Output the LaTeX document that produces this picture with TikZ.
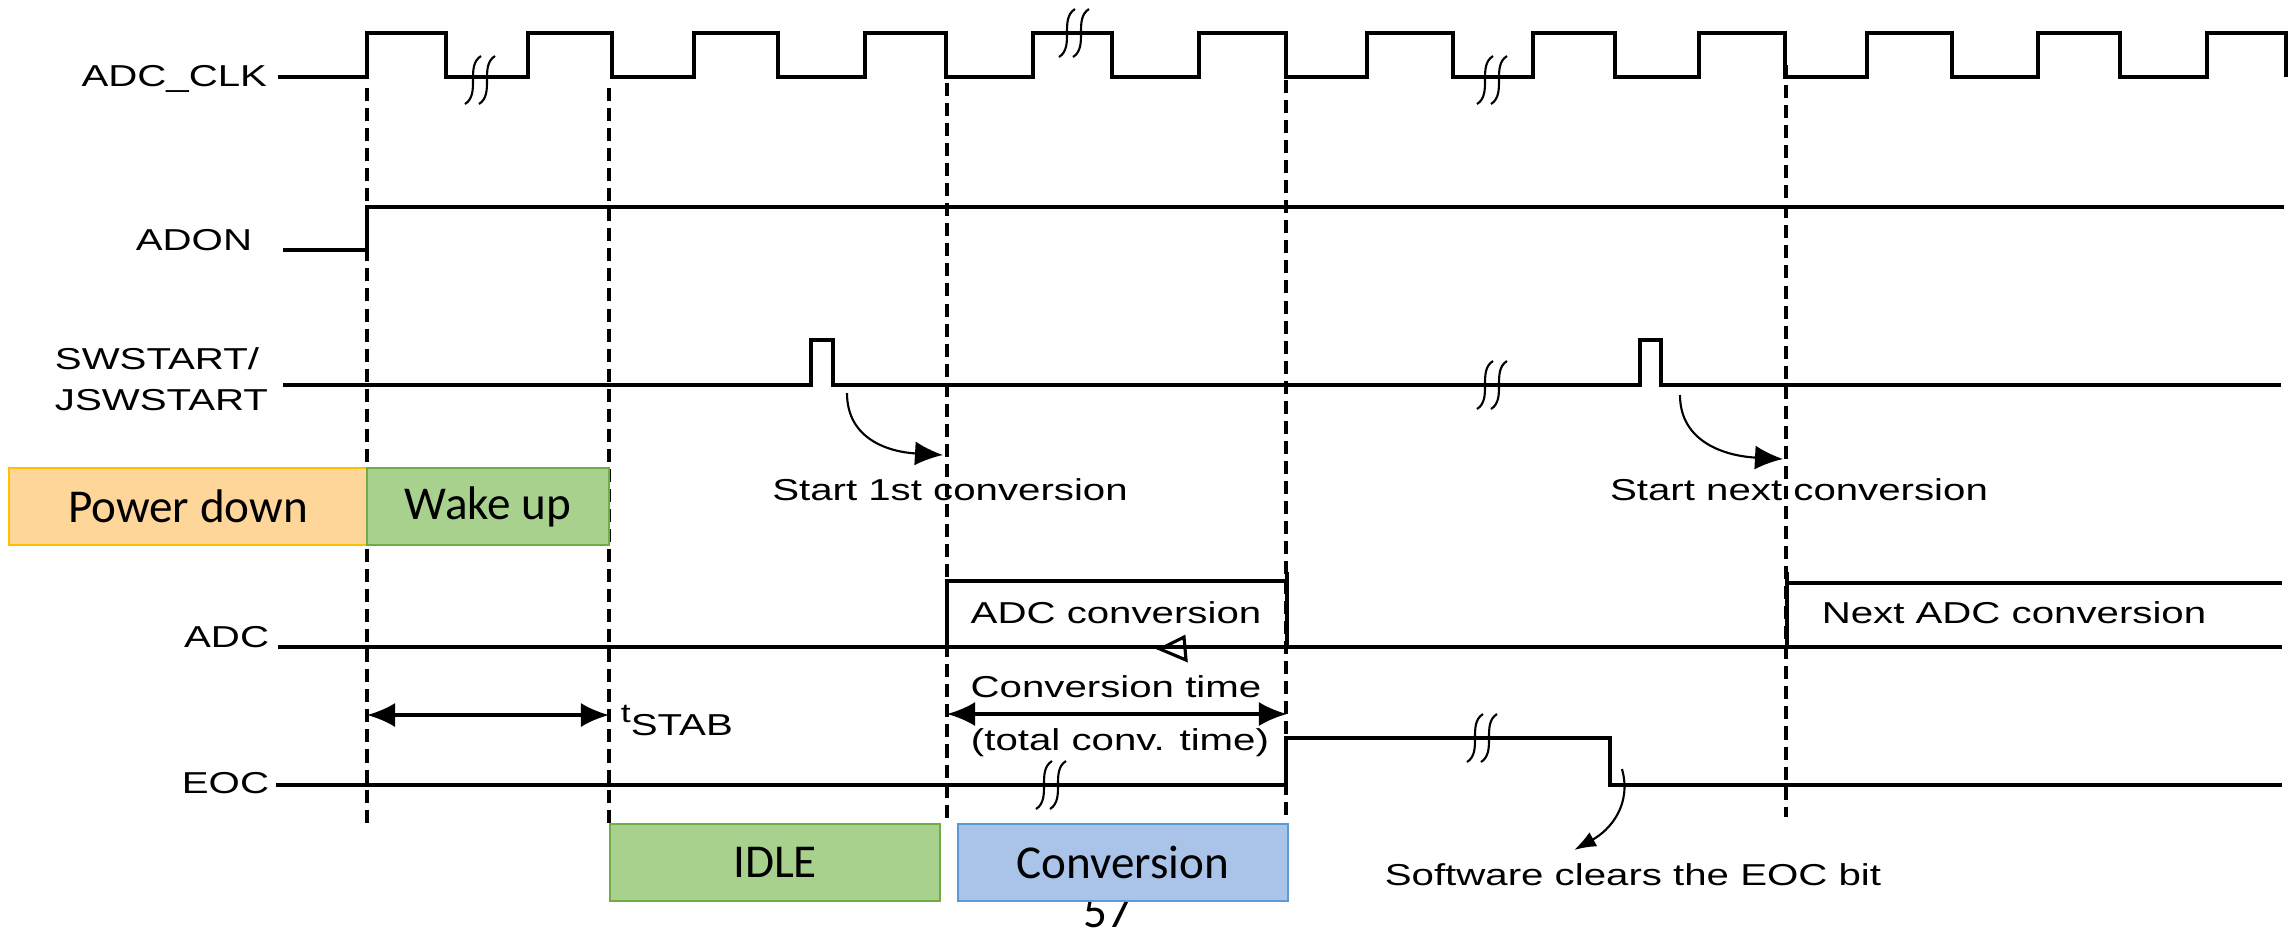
\documentclass[tikz,border=0pt]{standalone}
\usepackage{fontspec}
\setmainfont{Liberation Sans}
\newfontfamily\calibri{Carlito}
\usepackage{xcolor}
\usepackage{tikz}
\usetikzlibrary{calc, arrows.meta, positioning}

\definecolor{camnhat}{HTML}{FFD699}
\definecolor{camdam}{HTML}{FFC000}
\definecolor{lucnhat}{HTML}{A9D18E}
\definecolor{lucdam}{HTML}{70AD47}
\definecolor{lamnhat}{HTML}{A9C4E8}
\definecolor{lamdam}{HTML}{5B9BD5}

\tikzset{
    sig/.style={line width=1pt},
    moc/.style={line width=0.9pt, dash pattern=on 3.7pt off 2pt},
    lbl/.style={font=\fontsize{8.6}{11.4}\selectfont, xscale=1.33, inner sep=0pt},
    chu/.style={font=\calibri\fontsize{13.4}{15}\selectfont, inner sep=0pt},
    hop/.style={chu, draw, line width=0.6pt, minimum height=0.77cm},
    muiten/.style={line width=0.6pt, ->},
}

% ky hieu ngat quang
\newcommand{\ngat}[2]{%
    \begin{scope}[shift={(#1,#2)}]
        \draw[line width=0.6pt] (1,-24) .. controls (-15,-14) and (1,14) .. (-15,24);
        \draw[line width=0.6pt] (15,-24) .. controls (-1,-14) and (15,14) .. (-1,24);
    \end{scope}}

\begin{document}
\begin{tikzpicture}[>={Latex[length=2.8mm,width=2.4mm]}, x=0.01cm, y=-0.01cm]
    \useasboundingbox (0,0) rectangle (2296,932);

    % Đường gióng nét đứt
    \foreach \x/\a/\b in {367/88/823, 609/88/823, 947/83/820, 1286/80/820, 1786/65/817}
        \draw[moc] (\x,\a) -- (\x,\b);

    % Tên các tín hiệu
    \node[lbl, anchor=base east] (clk) at (268,86) {ADC\_CLK};
    \node[lbl, anchor=base east] (adon) at (253,250) {ADON};
    \node[lbl, anchor=base west] (sw1) at (54,369) {SWSTART/};
    \node[lbl, anchor=base west] (sw2) at (54,410) {JSWSTART};
    \node[lbl, anchor=base east] (adc) at (270,647) {ADC};
    \node[lbl, anchor=base east] (eoc) at (270,793) {EOC};

    % Xung ADC_CLK
    \draw[sig] (278,77) foreach \r/\f in {367/446, 528/612, 694/778, 865/946, 1033/1112, 1199/1286,
        1367/1453, 1533/1615, 1699/1785, 1867/1952, 2038/2120, 2207/2286}
        { -- (\r,77) -- (\r,33) -- (\f,33) -- (\f,77) };
    \ngat{480}{80}
    \ngat{1074}{33}
    \ngat{1492}{80}

    % ADON
    \draw[sig] (283,250) -- (367,250) -- (367,207) -- (2284,207);

    % SWSTART
    \draw[sig] (283,385) -- (811,385) -- (811,340) -- (833,340) -- (833,385) -- (1640,385)
        -- (1640,340) -- (1661,340) -- (1661,385) -- (2281,385);
    \ngat{1492}{385}

    \coordinate (p1) at (847,393);
    \coordinate (q1) at (943,455);
    \draw[muiten] (p1) .. controls (847,440) and (890,452) .. (q1);
    \node[lbl, anchor=base] (start1) at (950,500) {Start 1st conversion};

    \coordinate (p2) at (1680,395);
    \coordinate (q2) at (1783,459);
    \draw[muiten] (p2) .. controls (1680,442) and (1725,456) .. (q2);
    \node[lbl, anchor=base] (startn) at (1799,500) {Start next conversion};

    % ADC
    \draw[sig] (278,647) -- (2282,647);
    \draw[sig] (947,647) -- (947,581) -- (1287,581);
    \draw[sig] (1287,572) -- (1287,647);
    \draw[sig] (1787,572) -- (1787,647);
    \draw[sig] (1787,583) -- (2282,583);
    \draw[line width=0.9pt] (1160,649) -- (1184,637) -- (1186,660) -- cycle;
    \node[lbl, anchor=base] (adcconv) at (1116,623) {ADC conversion};
    \node[lbl, anchor=base] (nextconv) at (2014,623) {Next ADC conversion};

    % Khoảng thời gian
    \coordinate (ta) at (367,715);
    \coordinate (tb) at (609,715);
    \draw[<->, line width=0.9pt] (ta) -- (tb);
    \node[lbl, anchor=base west] (tstab) at (620,722)
        {{\fontsize{7.6}{8}\selectfont t}\raisebox{-0.13cm}{STAB}};

    \coordinate (ca) at (947,714);
    \coordinate (cb) at (1287,714);
    \draw[<->, line width=0.9pt] (ca) -- (cb);
    \node[lbl, anchor=base] (convtime) at (1116,697) {Conversion time};
    \node[lbl, anchor=base] (totaltime) at (1120,750) {(total conv. time)};

    % EOC
    \draw[sig] (276,785) -- (1286,785) -- (1286,738) -- (1610,738) -- (1610,785) -- (2282,785);
    \ngat{1051}{785}
    \ngat{1482}{738}

    \coordinate (p3) at (1622,769);
    \coordinate (q3) at (1574,850);
    \draw[line width=0.6pt, -{Latex[length=2.2mm,width=1.6mm]}] (p3) .. controls (1632,805) and (1610,830) .. (q3);
    \node[lbl, anchor=base] (swclear) at (1633,885) {Software clears the EOC bit};

    % Các trạng thái
    \node[hop, fill=camnhat, draw=camdam, minimum width=3.58cm] (powerdown) at (188,506.5) {Power down};
    \node[hop, fill=lucnhat, draw=lucdam, minimum width=2.42cm] (wakeup) at (488,506.5) {Wake up};
    \node[chu, anchor=base] (trang) at (1107,927) {57};
    \node[hop, fill=lucnhat, draw=lucdam, minimum width=3.30cm] (idle) at (775,862.5) {IDLE};
    \node[hop, fill=lamnhat, draw=lamdam, minimum width=3.30cm] (conv) at (1123,862.5) {Conversion};
\end{tikzpicture}
\end{document}
